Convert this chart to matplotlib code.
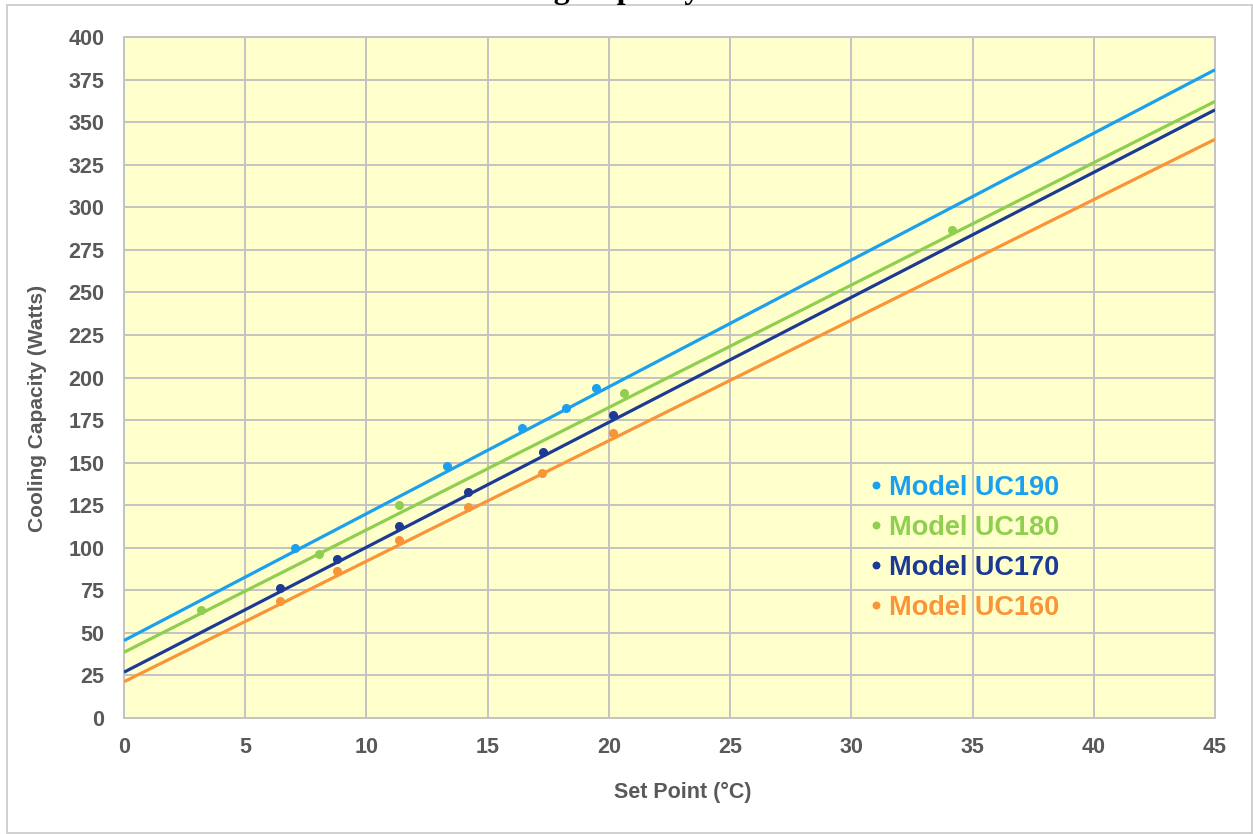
import numpy as np
import matplotlib
matplotlib.use('Agg')
import matplotlib.pyplot as plt
from matplotlib.patches import Rectangle

# Measured points per model (set point degC, cooling capacity W)
uc190_x = [7.05, 13.34, 16.41, 18.25, 19.45]
uc190_y = [100.0, 148.0, 170.4, 181.8, 193.9]
uc180_x = [3.17, 8.06, 11.34, 20.61, 34.16]
uc180_y = [63.7, 96.5, 124.9, 191.0, 286.4]
uc170_x = [6.43, 8.79, 11.34, 14.17, 17.28, 20.17]
uc170_y = [76.3, 93.1, 112.5, 132.8, 156.3, 177.8]
uc160_x = [6.43, 8.79, 11.34, 14.17, 17.25, 20.17]
uc160_y = [69.0, 86.1, 104.3, 123.9, 144.1, 167.6]

# linear trendlines (slope W/degC, intercept W)
trend_slope = [7.45, 7.19, 7.34, 7.08]
trend_icept = [45.5, 38.6, 26.9, 21.3]

labels = ['Model UC190', 'Model UC180', 'Model UC170', 'Model UC160']
colors = ['#1AA0EE', '#8FCF4F', '#1C3A94', '#FA9438']
x_ticks = list(range(0, 50, 5))
y_ticks = list(range(0, 425, 25))

series = [(uc190_x, uc190_y), (uc180_x, uc180_y), (uc170_x, uc170_y), (uc160_x, uc160_y)]

W, H = 1253, 834
fig = plt.figure(figsize=(W / 100, H / 100), dpi=100)
ax = fig.add_axes([124 / W, 1 - 718 / H, (1215 - 124) / W, (718 - 37) / H])
ax.set_facecolor('#FFFFCC')

grey = '#C3C3C3'
txt = '#595959'

xx = np.array([0, 45])
handles = []
for (xs, ys), k, b, c, lab in zip(series, trend_slope, trend_icept, colors, labels):
    ax.plot(xx, k * xx + b, color=c, lw=2.3, solid_capstyle='butt', zorder=3)
    h, = ax.plot(xs, ys, 'o', color=c, ms=5.5, mec=c, zorder=4, label=lab)
    handles.append(h)

ax.set_xlim(0, 45)
ax.set_ylim(0, 400)
ax.set_xticks(x_ticks)
ax.set_yticks(y_ticks)
ax.grid(True, color=grey, lw=1.4)
ax.set_axisbelow(True)
for s in ax.spines.values():
    s.set_color(grey)
    s.set_linewidth(1.4)
ax.tick_params(length=0, labelsize=15.5, labelcolor=txt)
ax.tick_params(axis='y', pad=14)
ax.tick_params(axis='x', pad=14)
for t in ax.get_xticklabels() + ax.get_yticklabels():
    t.set_fontfamily('Liberation Sans')
    t.set_fontweight('bold')

ax.set_xlabel('Set Point (°C)', fontsize=15.5, fontweight='bold', color=txt,
              family='Liberation Sans', labelpad=17)
ax.xaxis.label.set_x(0.512)
ax.set_ylabel('Cooling Capacity (Watts)', fontsize=15, fontweight='bold', color=txt,
              family='Liberation Sans', labelpad=15.5)
ax.yaxis.label.set_y(0.455)

leg = ax.legend(handles=handles, loc='center left', bbox_to_anchor=(0.684, 0.25),
                frameon=False, handlelength=0.4, handletextpad=0.3,
                markerscale=0.85, labelspacing=0.52, borderaxespad=0, borderpad=0,
                prop={'family': 'Liberation Sans', 'weight': 'bold', 'size': 19.5})
for t, c in zip(leg.get_texts(), colors):
    t.set_color(c)

# title, mostly clipped at top edge
fig.text(670 / W, 1 + 2 / H, 'Cooling Capacity vs. Set Point', ha='center', va='baseline',
         fontsize=23, fontweight='bold', family='Liberation Serif', color='black')

# outer chart frame
fig.patches.append(Rectangle((7 / W, 1 / H), (W - 8) / W, (H - 6) / H,
                             transform=fig.transFigure, fill=False, ec='#C8C8C8', lw=1.2))

fig.savefig('out.png', dpi=100)
